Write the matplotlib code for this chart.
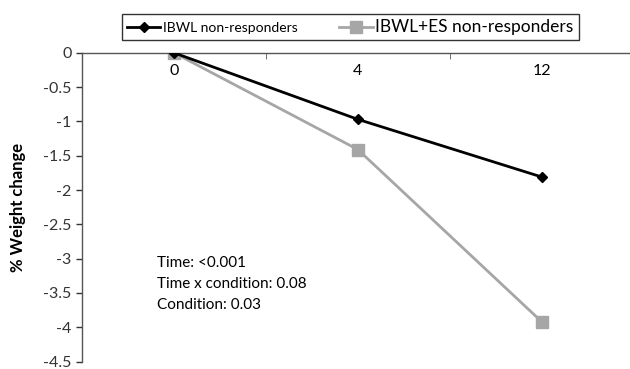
import matplotlib.pyplot as plt

plt.rcParams['font.family'] = ['Lato', 'DejaVu Sans']

# Data
weeks = ['0', '4', '12']
ibwl = [0, -0.97, -1.81]
ibwl_es = [0, -1.41, -3.92]
stats_text = ['Time: <0.001', 'Time x condition: 0.08', 'Condition: 0.03']

fig = plt.figure(figsize=(6.3, 3.69), dpi=100)
ax = fig.add_axes([0.130, 0.02, 0.876, 0.837])

x = range(len(weeks))
ax.plot(x, ibwl, color='black', lw=2.0, marker='D', ms=5,
        label='IBWL non-responders', zorder=3)
ax.plot(x, ibwl_es, color='#a6a6a6', lw=2.0, marker='s', ms=9,
        label='IBWL+ES non-responders', zorder=2)

ax.set_xlim(-0.5, 2.5)
ax.set_ylim(-4.5, 0)
ax.set_yticks([0, -0.5, -1, -1.5, -2, -2.5, -3, -3.5, -4, -4.5])
ax.set_yticklabels(['0', '-0.5', '-1', '-1.5', '-2', '-2.5', '-3', '-3.5', '-4', '-4.5'])
ax.tick_params(axis='y', length=4, labelsize=11.5, colors='#333333', width=1)

ax.spines['right'].set_visible(False)
ax.spines['top'].set_visible(False)
ax.spines['bottom'].set_position(('data', 0))
for s in ['left', 'bottom']:
    ax.spines[s].set_color('#555555')
    ax.spines[s].set_linewidth(1)

ax.set_xticks(list(x))
ax.set_xticklabels(weeks)
ax.set_xticks([0.5, 1.5], minor=True)
ax.tick_params(axis='x', which='major', length=0, pad=8, labelsize=11.5)
ax.tick_params(axis='x', which='minor', length=4, direction='out', color='#555555')

ax.set_ylabel('% Weight change', fontsize=12, fontweight='bold', labelpad=12)

for i, t in enumerate(stats_text):
    ax.text(-0.09, -3.06 - i * 0.31, t, fontsize=11, va='center', ha='left')

leg = fig.legend(loc='center', bbox_to_anchor=(0.556, 0.927), ncol=2,
                 frameon=True, fancybox=False, edgecolor='black',
                 handlelength=2.4, columnspacing=3.0, borderpad=0.35,
                 handletextpad=0.2, borderaxespad=0)
leg.get_frame().set_linewidth(1.0)
leg.get_texts()[0].set_fontsize(10)
leg.get_texts()[1].set_fontsize(12.5)

fig.savefig('out.png', dpi=100)
